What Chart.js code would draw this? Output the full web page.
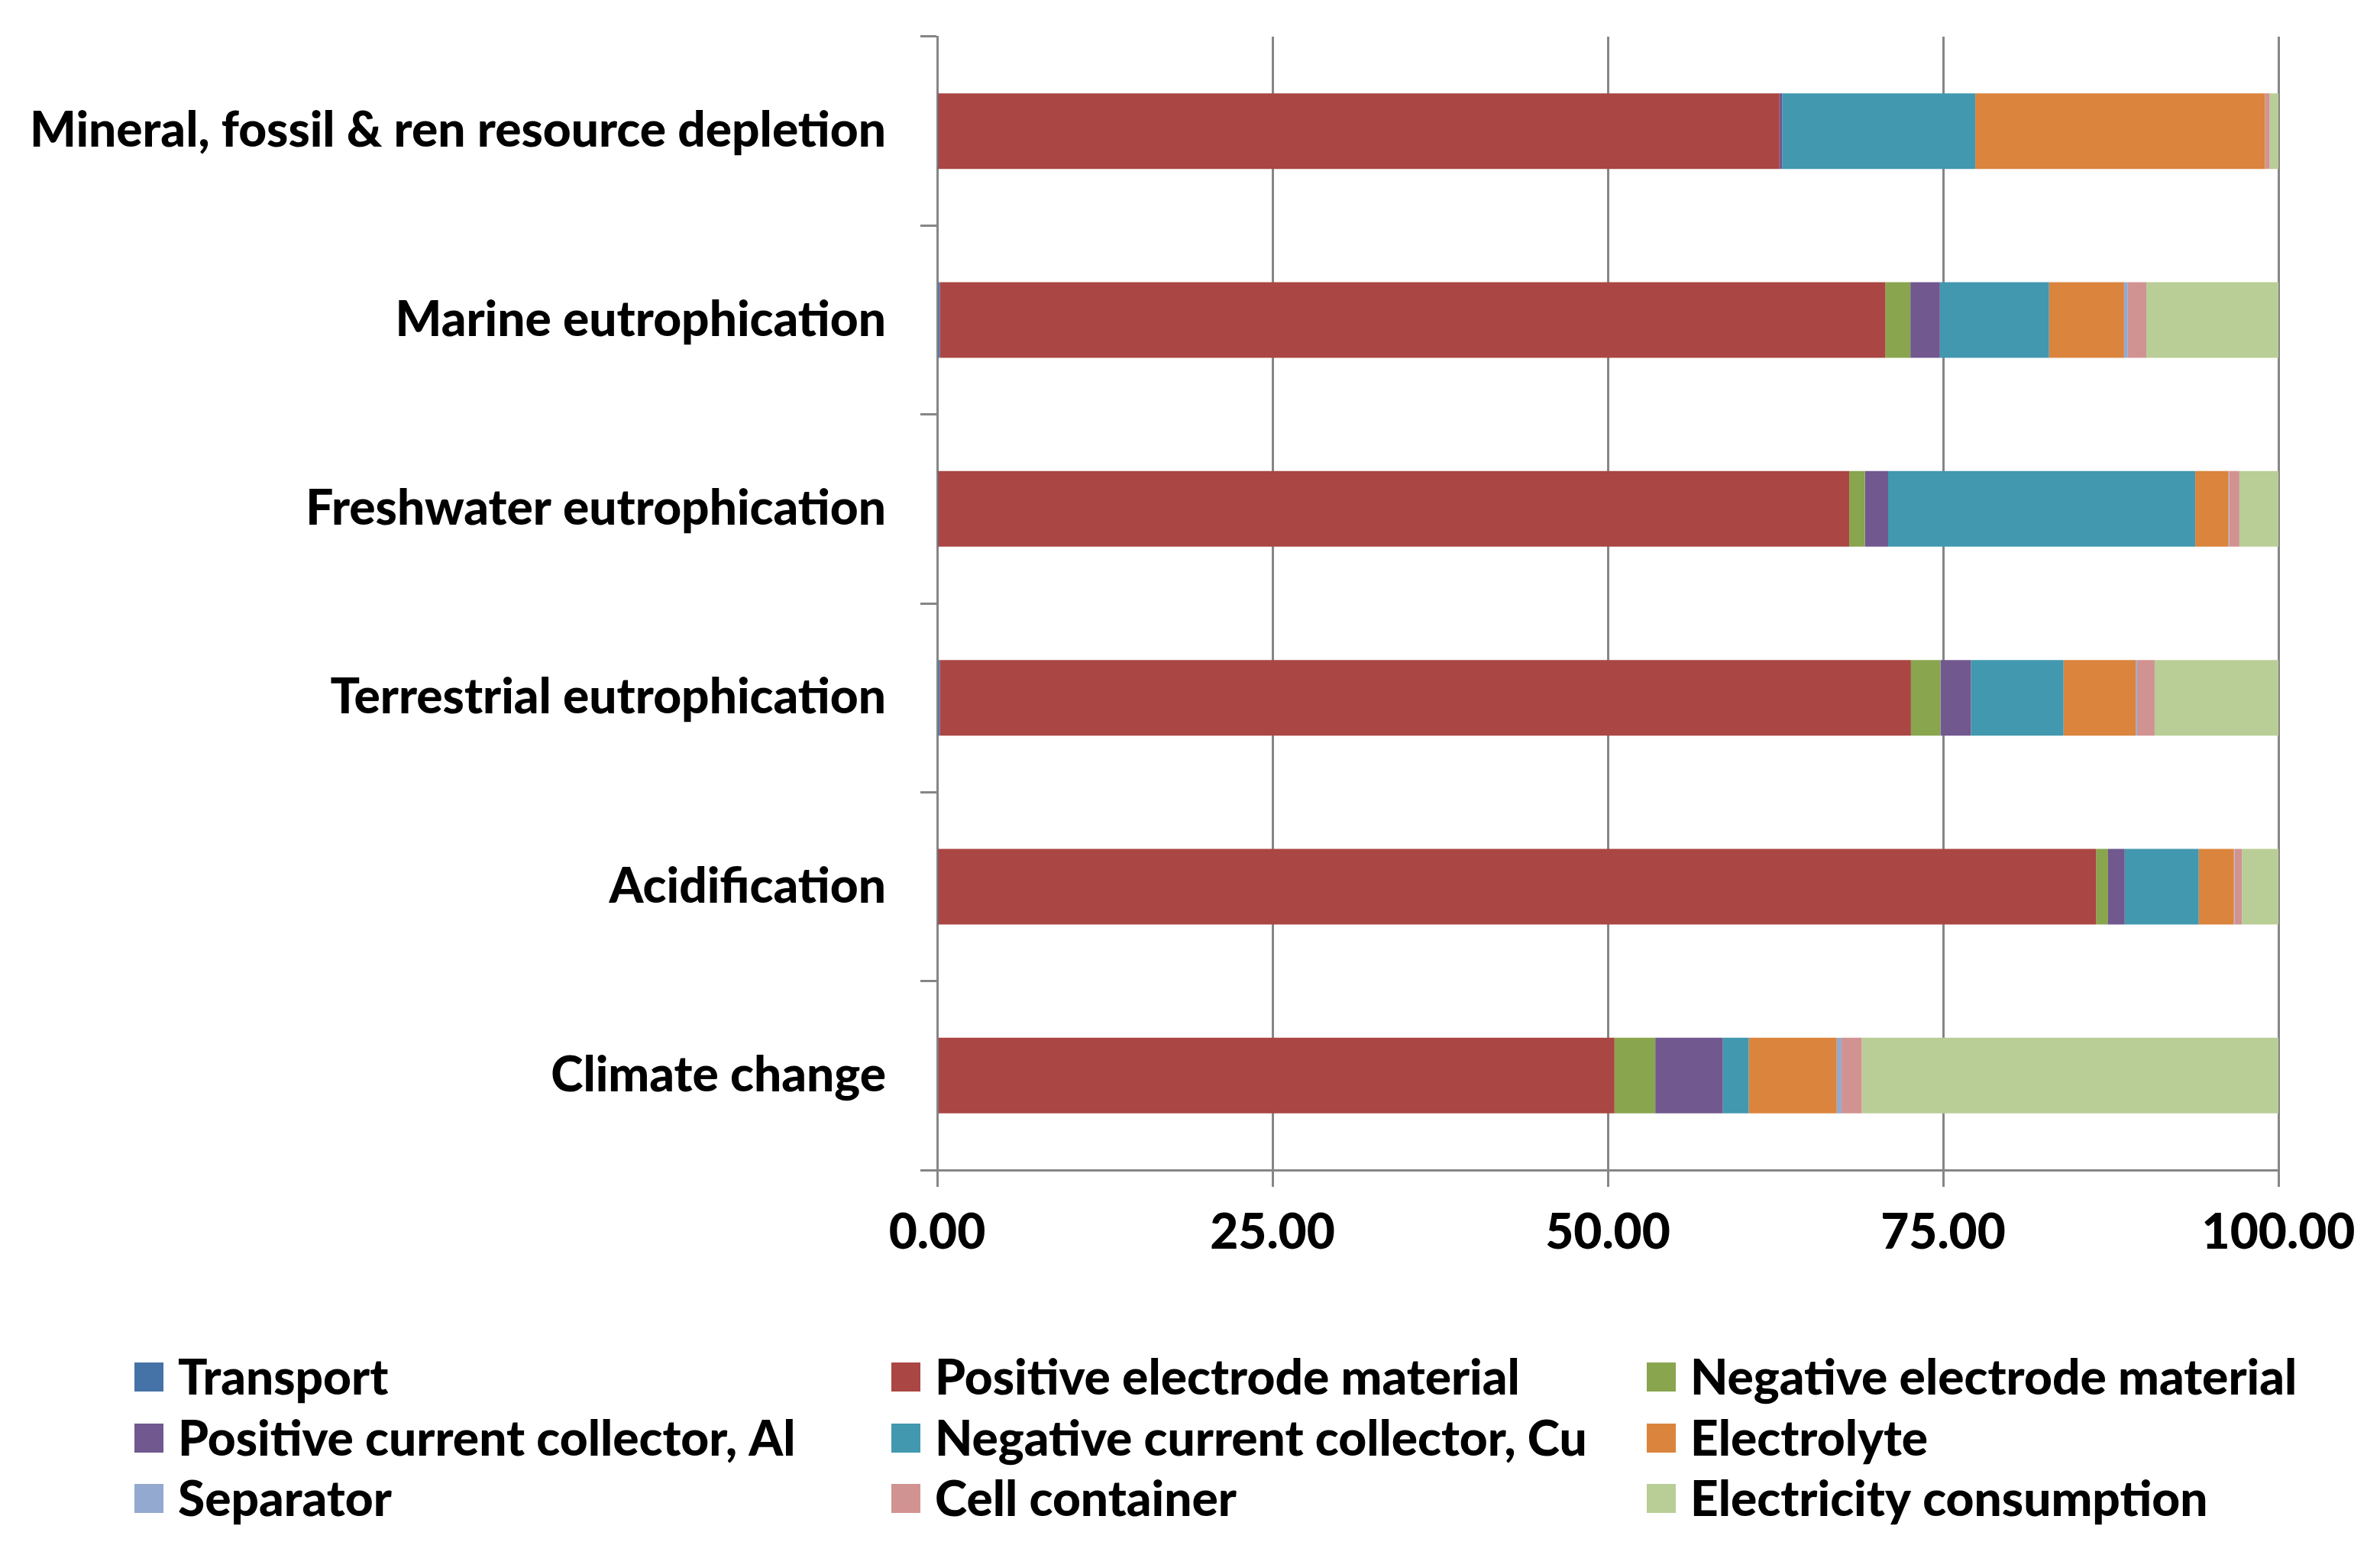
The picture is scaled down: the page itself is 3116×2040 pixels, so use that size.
<!DOCTYPE html>
<html>
<head>
<meta charset="utf-8">
<script src="https://cdn.jsdelivr.net/npm/chart.js@4.4.1/dist/chart.umd.min.js"></script>
<style>
html,body{margin:0;padding:0;background:#fff;}
#wrap{width:3116px;height:2040px;}
</style>
</head>
<body>
<div id="wrap"><canvas id="c" width="3116" height="2040" style="width:3116px;height:2040px"></canvas></div>
<script>
const categories = ['Mineral, fossil & ren resource depletion','Marine eutrophication','Freshwater eutrophication','Terrestrial eutrophication','Acidification','Climate change'];
const seriesNames = ['Transport','Positive electrode material','Negative electrode material','Positive current collector, Al','Negative current collector, Cu','Electrolyte','Separator','Cell container','Electricity consumption'];
const transport = [0.05, 0.2, 0.05, 0.2, 0.05, 0.1];
const positiveElectrode = [62.75, 70.5, 67.95, 72.4, 86.35, 50.4];
const negativeElectrode = [0, 1.86, 1.17, 2.2, 0.9, 3.04];
const posCollectorAl = [0.2, 2.2, 1.73, 2.28, 1.24, 5.04];
const negCollectorCu = [14.4, 8.14, 22.9, 6.9, 5.52, 1.93];
const electrolyte = [21.6, 5.59, 2.48, 5.38, 2.62, 6.56];
const separator = [0, 0.28, 0.05, 0.1, 0.05, 0.35];
const cellContainer = [0.35, 1.38, 0.76, 1.31, 0.55, 1.52];
const electricity = [0.65, 9.85, 2.91, 9.23, 2.72, 31.06];
const xTicks = [0, 25, 50, 75, 100];

const seriesValues = [transport, positiveElectrode, negativeElectrode, posCollectorAl, negCollectorCu, electrolyte, separator, cellContainer, electricity];
const colors = ['#4572A7','#AA4643','#89A54E','#71588F','#4198AF','#DB843D','#93A9CF','#D19392','#B9CD96'];

const FONT = "Lato, 'Open Sans', sans-serif";
const WEIGHT = '900';
// calibrate font size so the longest category label spans the same width as in the reference
const mctx = document.createElement('canvas').getContext('2d');
mctx.font = WEIGHT + ' 100px ' + FONT;
const FS = Math.round(100 * 1114 / mctx.measureText(categories[0]).width);
const GRID = '#868686';

const legendPlugin = {
  id: 'gridLegend',
  afterDraw(chart) {
    const ctx = chart.ctx;
    const colX = [176, 1167, 2156];
    const rowY = [1803, 1883, 1962];
    ctx.save();
    ctx.font = WEIGHT + ' ' + FS + 'px ' + FONT;
    ctx.textBaseline = 'middle';
    ctx.textAlign = 'left';
    chart.data.datasets.forEach((ds, i) => {
      const c = i % 3, r = Math.floor(i / 3);
      ctx.fillStyle = ds.backgroundColor;
      ctx.fillRect(colX[c], rowY[r] - 19, 38, 38);
      ctx.fillStyle = '#000';
      ctx.fillText(ds.label, colX[c] + 57, rowY[r] + 2);
    });
    ctx.restore();
  }
};

new Chart(document.getElementById('c'), {
  type: 'bar',
  data: {
    labels: categories,
    datasets: seriesNames.map((n, i) => ({
      label: n,
      data: seriesValues[i],
      backgroundColor: colors[i],
      borderWidth: 0,
      barPercentage: 0.4,
      categoryPercentage: 1.0
    }))
  },
  options: {
    indexAxis: 'y',
    responsive: false,
    devicePixelRatio: 1,
    animation: false,
    layout: { padding: { top: 48, right: 133, bottom: 300, left: 0 } },
    plugins: { legend: { display: false }, tooltip: { enabled: false } },
    scales: {
      x: {
        stacked: true,
        min: 0, max: 100,
        afterBuildTicks: (s) => { s.ticks = xTicks.map(v => ({ value: v })); },
        afterFit: (s) => { s.height = 208; s.paddingLeft = 0; s.paddingRight = 0; },
        ticks: {
          color: '#000',
          font: { family: FONT, size: FS, weight: WEIGHT },
          padding: 22,
          maxRotation: 0,
          callback: (v) => Number(v).toFixed(2)
        },
        grid: { color: GRID, lineWidth: 3, drawOnChartArea: true, drawTicks: true, tickLength: 22 },
        border: { display: true, color: GRID, width: 3 }
      },
      y: {
        stacked: true,
        afterFit: (s) => { s.width = 1227; s.paddingTop = 0; s.paddingBottom = 0; },
        ticks: {
          color: '#000',
          font: { family: FONT, size: FS, weight: WEIGHT },
          padding: 45
        },
        grid: { color: GRID, lineWidth: 3, drawOnChartArea: false, drawTicks: true, tickLength: 22, offset: true },
        border: { display: true, color: GRID, width: 3 }
      }
    }
  },
  plugins: [legendPlugin]
});
</script>
</body>
</html>
